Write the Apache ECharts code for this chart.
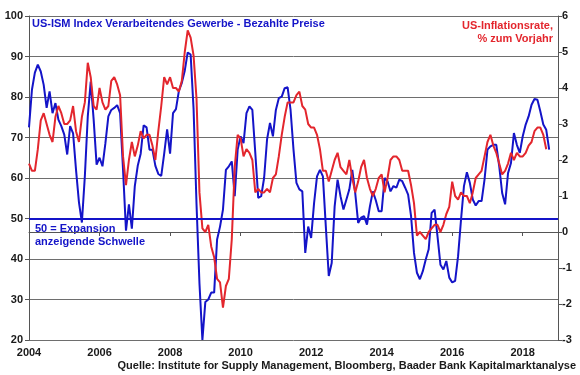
<!DOCTYPE html>
<html>
<head>
<meta charset="utf-8">
<script src="https://cdn.jsdelivr.net/npm/echarts@6/dist/echarts.min.js"></script>
<style>
  html, body { margin: 0; padding: 0; background: #fff; }
  #chart { width: 580px; height: 375px; }
</style>
</head>
<body>
<div id="chart"></div>
<script>
// monthly values, first value = Jan 2004
var startYear = 2004
var yearTicks = [2004, 2006, 2008, 2010, 2012, 2014, 2016, 2018]

// US-ISM Index Verarbeitendes Gewerbe - Bezahlte Preise (left axis)
var ismPrices = [
  72.5, 81.8, 86.0, 88.0, 86.3, 83.0, 77.3, 81.4, 76.0, 78.5, 74.4, 72.8,
  70.7, 65.8, 72.8, 71.0, 62.0, 54.0, 49.0, 60.4, 75.2, 83.8, 74.4, 63.3,
  65.0, 62.9, 68.6, 75.2, 76.8, 77.3, 78.0, 76.0, 62.0, 47.0, 53.5, 47.5,
  58.0, 63.0, 66.0, 73.0, 72.5, 67.0, 67.0, 63.0, 61.0, 60.5, 66.0, 72.0,
  66.0, 76.0, 77.0, 81.5, 83.5, 86.5, 91.0, 90.5, 77.0, 53.5, 34.0, 20.0,
  29.4, 30.0, 31.7, 31.7, 44.8, 48.0, 52.2, 62.0, 62.9, 64.1, 55.5, 67.0,
  70.3, 68.6, 76.0, 77.7, 76.8, 66.2, 55.1, 55.5, 60.0, 69.5, 73.6, 70.3,
  76.8, 79.7, 80.1, 82.2, 82.4, 76.8, 67.0, 58.8, 57.2, 56.7, 41.5, 48.0,
  45.2, 53.8, 60.4, 62.0, 60.4, 48.0, 35.8, 39.0, 53.0, 59.6, 55.5, 52.2,
  54.7, 57.2, 62.0, 56.3, 48.9, 50.2, 50.6, 48.5, 53.0, 56.7, 54.5, 51.8,
  51.8, 60.0, 59.2, 56.7, 58.0, 57.6, 59.6, 59.2, 57.6, 55.9, 50.6, 41.5,
  36.6, 35.0, 37.0, 39.9, 42.4, 51.4, 52.2, 45.6, 38.6, 37.4, 39.5, 35.4,
  34.2, 34.6, 40.7, 49.7, 58.0, 61.4, 58.8, 54.7, 53.2, 54.3, 54.3, 59.6,
  67.0, 67.8, 68.2, 68.2, 62.9, 56.3, 53.5, 61.2, 63.7, 71.1, 68.2, 66.2,
  70.3, 73.2, 75.2, 78.1, 79.5, 79.3, 76.4, 73.2, 71.9, 67.0
]

// US-Inflationsrate, % zum Vorjahr (right axis)
var inflation = [
  1.9, 1.7, 1.7, 2.3, 3.1, 3.3, 3.0, 2.7, 2.5, 3.2, 3.5, 3.3,
  3.0, 3.0, 3.1, 3.5, 2.8, 2.5, 3.2, 3.6, 4.7, 4.3, 3.5, 3.4,
  4.0, 3.6, 3.4, 3.5, 4.2, 4.3, 4.1, 3.8, 2.1, 1.3, 2.0, 2.5,
  2.1, 2.4, 2.8, 2.6, 2.7, 2.7, 2.4, 2.0, 2.8, 3.5, 4.3, 4.1,
  4.3, 4.0, 4.0, 3.9, 4.2, 5.0, 5.6, 5.4, 4.9, 3.7, 1.1, 0.1,
  0.0, 0.2, -0.4, -0.7, -1.3, -1.4, -2.1, -1.5, -1.3, -0.2, 1.8, 2.7,
  2.6, 2.1, 2.3, 2.2, 2.0, 1.1, 1.2, 1.1, 1.1, 1.2, 1.1, 1.5,
  1.6, 2.1, 2.7, 3.2, 3.6, 3.6, 3.6, 3.8, 3.9, 3.5, 3.4, 3.0,
  2.9, 2.9, 2.7, 2.3, 1.7, 1.7, 1.4, 1.7, 2.0, 2.2, 1.8, 1.7,
  1.6, 2.0, 1.5, 1.1, 1.4, 1.8, 2.0, 1.5, 1.2, 1.0, 1.2, 1.5,
  1.6, 1.1, 1.5, 2.0, 2.1, 2.1, 2.0, 1.7, 1.7, 1.7, 1.3, 0.8,
  -0.1, 0.0, -0.1, -0.2, 0.0, 0.1, 0.2, 0.2, 0.0, 0.2, 0.5, 0.7,
  1.4, 1.0, 0.9, 1.1, 1.0, 1.0, 0.8, 1.1, 1.5, 1.6, 1.7, 2.1,
  2.5, 2.7, 2.4, 2.2, 1.9, 1.6, 1.7, 1.9, 2.2, 2.0, 2.2, 2.1,
  2.1, 2.2, 2.4, 2.5, 2.8, 2.9, 2.9, 2.7, 2.3
]

var threshold = 50

function toPairs (arr) {
  return arr.map(function (v, i) { return [startYear + i / 12, v] })
}

var blue = '#1414c8'
var red = '#e3262d'
var font = 'Liberation Sans, Arial, sans-serif'
var labelStyle = { color: '#1a1a1a', fontSize: 11, fontWeight: 'bold', fontFamily: font }

var myChart = echarts.init(document.getElementById('chart'))
myChart.setOption({
  animation: false,
  grid: { left: 29, right: 22, top: 16, bottom: 35 },
  xAxis: {
    type: 'value',
    min: 2004,
    max: 2019,
    interval: 2,
    axisLine: { show: true, lineStyle: { color: '#555' } },
    axisTick: { show: true, length: 4, customValues: yearTicks, lineStyle: { color: '#555' } },
    axisLabel: Object.assign({ margin: 7, customValues: yearTicks, formatter: function (v) { return String(v) } }, labelStyle),
    splitLine: { show: false }
  },
  yAxis: [
    {
      type: 'value',
      min: 20,
      max: 100,
      interval: 10,
      axisLine: { show: true, lineStyle: { color: '#555' } },
      axisTick: { show: true, length: 4, lineStyle: { color: '#555' } },
      axisLabel: Object.assign({ margin: 6 }, labelStyle),
      splitLine: { show: true, lineStyle: { color: '#6e6e6e', width: 1 } }
    },
    {
      type: 'value',
      min: -3,
      max: 6,
      interval: 1,
      position: 'right',
      axisLine: { show: true, lineStyle: { color: '#555' } },
      axisTick: { show: true, length: 4, lineStyle: { color: '#555' } },
      axisLabel: Object.assign({ margin: 4 }, labelStyle),
      splitLine: { show: false }
    }
  ],
  series: [
    {
      name: 'ISM Preise',
      type: 'line',
      yAxisIndex: 0,
      data: toPairs(ismPrices),
      showSymbol: false,
      lineStyle: { color: blue, width: 2 },
      markLine: {
        silent: true,
        symbol: 'none',
        label: { show: false },
        lineStyle: { color: blue, width: 2, type: 'solid' },
        data: [{ yAxis: threshold }]
      }
    },
    {
      name: 'Inflation',
      type: 'line',
      yAxisIndex: 1,
      data: toPairs(inflation),
      showSymbol: false,
      lineStyle: { color: red, width: 2 }
    }
  ],
  graphic: [
    {
      type: 'text', left: 32, top: 18,
      style: { text: 'US-ISM Index Verarbeitendes Gewerbe - Bezahlte Preise', fill: blue, font: 'bold 11px ' + font }
    },
    {
      type: 'text', right: 27, top: 20,
      style: { text: 'US-Inflationsrate,', fill: red, font: 'bold 11px ' + font }
    },
    {
      type: 'text', right: 27, top: 33,
      style: { text: '% zum Vorjahr', fill: red, font: 'bold 11px ' + font }
    },
    {
      type: 'text', left: 35, top: 222,
      style: { text: '50 = Expansion\nanzeigende Schwelle', fill: blue, font: 'bold 11px ' + font, lineHeight: 13 }
    },
    {
      type: 'text', right: 4, top: 360,
      style: { text: 'Quelle: Institute for Supply Management, Bloomberg, Baader Bank Kapitalmarktanalyse', fill: '#1a1a1a', font: 'bold 11px ' + font }
    }
  ]
})
</script>
</body>
</html>
